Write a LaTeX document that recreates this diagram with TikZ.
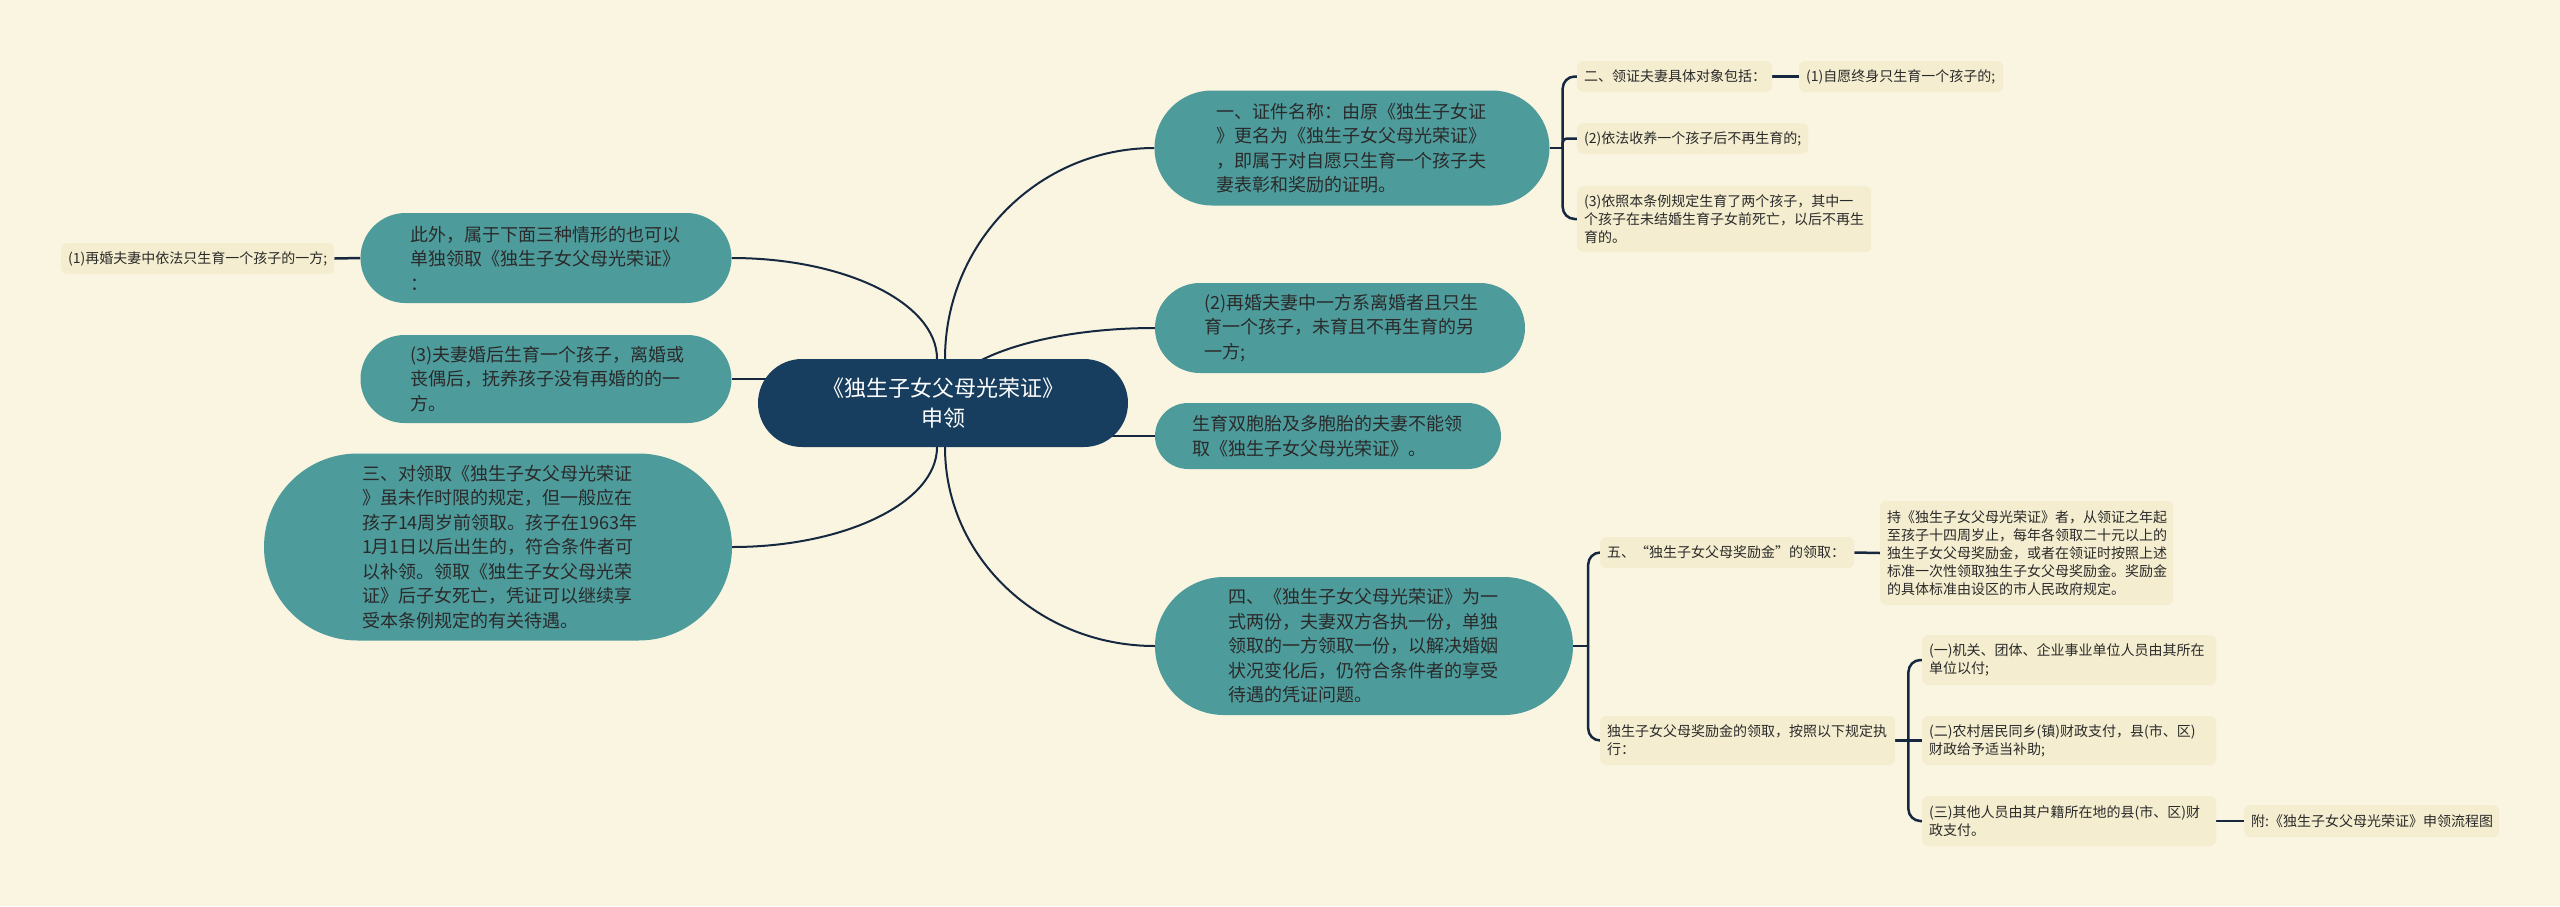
\documentclass[tikz,border=0pt]{standalone}
\usepackage{fontspec}
\setmainfont{Noto Sans CJK SC}
\usetikzlibrary{calc}
\definecolor{bgc}{HTML}{FAF5E1}
\definecolor{tealn}{HTML}{4E9B9C}
\definecolor{navy}{HTML}{173E5E}
\definecolor{leaf}{HTML}{F4EDCF}
\definecolor{linec}{HTML}{15283F}
\definecolor{txt}{HTML}{2A2A2A}
\pgfdeclarelayer{bgl}
\pgfdeclarelayer{conn}
\pgfsetlayers{bgl,conn,main}
\begin{document}
\begin{tikzpicture}[x=1pt,y=-1pt,
  bignode/.style={fill=tealn, text=txt, font=\fontsize{18}{24.5}\selectfont, align=left, text width=272pt, inner sep=0pt},
  leafnode/.style={fill=leaf, text=txt, font=\fontsize{14}{18}\selectfont, align=left, inner xsep=7pt, inner ysep=0pt, rounded corners=6pt, anchor=west},
  conn/.style={draw=linec, line width=2pt},
  subconn/.style={draw=linec, line width=2.5pt}]
\useasboundingbox (0,0) rectangle (2560,906);
\begin{pgfonlayer}{bgl}
\fill[bgc] (0,0) rectangle (2560,906);
\end{pgfonlayer}

% central
\node[fill=navy, text=white, font=\fontsize{22}{30}\selectfont, align=center, minimum width=370pt, minimum height=88pt, rounded corners=44pt, inner sep=0pt] (c) at (943,403) {《独生子女父母光荣证》\\申领};

% right main nodes
\node[bignode, minimum width=395pt, minimum height=115pt, rounded corners=57.5pt] (r1) at (1352,148) {一、证件名称：由原《独生子女证\\》更名为《独生子女父母光荣证》\\，即属于对自愿只生育一个孩子夫\\妻表彰和奖励的证明。};
\node[bignode, minimum width=370pt, minimum height=90pt, rounded corners=45pt] (r2) at (1340,328) {(2)再婚夫妻中一方系离婚者且只生\\育一个孩子，未育且不再生育的另\\一方;};
\node[bignode, minimum width=346pt, minimum height=66pt, rounded corners=33pt] (r3) at (1328,436) {生育双胞胎及多胞胎的夫妻不能领\\取《独生子女父母光荣证》。};
\node[bignode, minimum width=418pt, minimum height=138pt, rounded corners=69pt] (r4) at (1364,646) {四、《独生子女父母光荣证》为一\\式两份，夫妻双方各执一份，单独\\领取的一方领取一份，以解决婚姻\\状况变化后，仍符合条件者的享受\\待遇的凭证问题。};

% left main nodes
\node[bignode, minimum width=371pt, minimum height=90pt, rounded corners=45pt] (l1) at (546,258) {此外，属于下面三种情形的也可以\\单独领取《独生子女父母光荣证》\\：};
\node[bignode, minimum width=371pt, minimum height=88pt, rounded corners=44pt] (l2) at (546,379) {(3)夫妻婚后生育一个孩子，离婚或\\丧偶后，抚养孩子没有再婚的的一\\方。};
\node[bignode, minimum width=468pt, minimum height=187pt, rounded corners=93.5pt] (l3) at (498,547) {三、对领取《独生子女父母光荣证\\》虽未作时限的规定，但一般应在\\孩子14周岁前领取。孩子在1963年\\1月1日以后出生的，符合条件者可\\以补领。领取《独生子女父母光荣\\证》后子女死亡，凭证可以继续享\\受本条例规定的有关待遇。};

% leaf nodes
\node[leafnode, text width=259pt, minimum height=31pt] (l0) at (61,258.5) {(1)再婚夫妻中依法只生育一个孩子的一方;};
\node[leafnode, text width=181pt, minimum height=31pt] (s1) at (1577,76.5) {二、领证夫妻具体对象包括：};
\node[leafnode, text width=190pt, minimum height=31pt] (s1a) at (1799,76.5) {(1)自愿终身只生育一个孩子的;};
\node[leafnode, text width=217pt, minimum height=31pt] (s2) at (1577,138.5) {(2)依法收养一个孩子后不再生育的;};
\node[leafnode, text width=280pt, minimum height=66pt] (s3) at (1577,219) {(3)依照本条例规定生育了两个孩子，其中一\\个孩子在未结婚生育子女前死亡，以后不再生\\育的。};
\node[leafnode, text width=240pt, minimum height=31pt] (s5) at (1600,552.5) {五、“独生子女父母奖励金”的领取：};
\node[leafnode, text width=279pt, minimum height=104pt] (s5a) at (1880,553) {持《独生子女父母光荣证》者，从领证之年起\\至孩子十四周岁止，每年各领取二十元以上的\\独生子女父母奖励金，或者在领证时按照上述\\标准一次性领取独生子女父母奖励金。奖励金\\的具体标准由设区的市人民政府规定。};
\node[leafnode, text width=281pt, minimum height=49pt] (s6) at (1600,740.5) {独生子女父母奖励金的领取，按照以下规定执\\行：};
\node[leafnode, text width=280pt, minimum height=50pt] (s7a) at (1922,660) {(一)机关、团体、企业事业单位人员由其所在\\单位以付;};
\node[leafnode, text width=280pt, minimum height=49pt] (s7b) at (1922,740.5) {(二)农村居民同乡(镇)财政支付，县(市、区)\\财政给予适当补助;};
\node[leafnode, text width=280pt, minimum height=50pt] (s7c) at (1922,821) {(三)其他人员由其户籍所在地的县(市、区)财\\政支付。};
\node[leafnode, text width=241pt, minimum height=32pt] (s7d) at (2244,821) {附:《独生子女父母光荣证》申领流程图};

\begin{pgfonlayer}{conn}
% main curves
\draw[conn] ($(c.north)+(2,0)$) .. controls +(0,-116) and +(-116,0) .. (r1.west);
\draw[conn] (c.center) .. controls +(0,-41) and +(-117,0) .. (r2.west);
\draw[conn] (c.center |- r3.west) -- (r3.west);
\draw[conn] ($(c.south)+(2,0)$) .. controls +(0,110) and +(-116,0) .. (r4.west);
\draw[conn] ($(c.north)+(-6,0)$) .. controls +(0,-56) and +(113,0) .. (l1.east);
\draw[conn] (c.center |- l2.east) -- (l2.east);
\draw[conn] ($(c.south)+(-6,0)$) .. controls +(0,55) and +(113,0) .. (l3.east);
% sub brackets
\coordinate (j1) at ($(r1.east)+(13,0)$);
\draw[subconn] (r1.east) -- (j1);
\draw[subconn, rounded corners=12pt] (j1) |- (s1.west);
\draw[subconn, rounded corners=4pt] (j1) |- (s2.west);
\draw[subconn, rounded corners=12pt] (j1) |- (s3.west);
\coordinate (j4) at ($(r4.east)+(15,0)$);
\draw[subconn] (r4.east) -- (j4);
\draw[subconn, rounded corners=12pt] (j4) |- (s5.west);
\draw[subconn, rounded corners=12pt] (j4) |- (s6.west);
\coordinate (j6) at ($(s6.east)+(13,0)$);
\draw[subconn] (s6.east) -- (j6);
\draw[subconn, rounded corners=12pt] (j6) |- (s7a.west);
\draw[subconn] (j6) -- (s7b.west);
\draw[subconn, rounded corners=12pt] (j6) |- (s7c.west);
% straight links
\draw[subconn] (s1.east) -- (s1a.west);
\draw[subconn] (s5.east) -- (s5a.west);
\draw[subconn] (s7c.east) -- (s7d.west);
\draw[subconn] (l0.east) -- (l1.west);
\end{pgfonlayer}
\end{tikzpicture}
\end{document}
